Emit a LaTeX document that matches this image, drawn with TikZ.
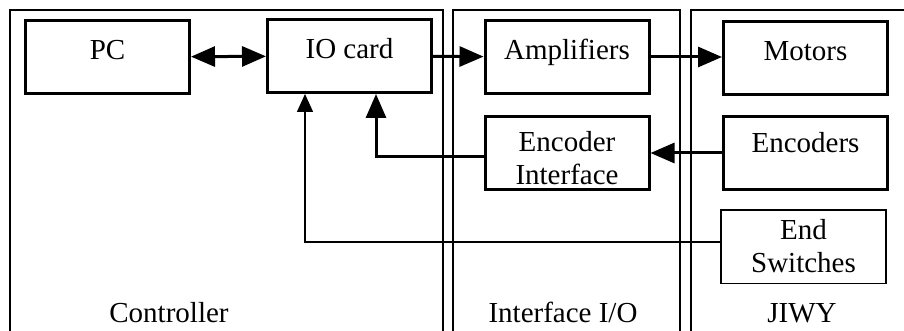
\documentclass[tikz,border=0pt]{standalone}
\usepackage{fontspec}
\setmainfont{Liberation Serif}
\usetikzlibrary{arrows.meta}
\tikzstyle{block}=[draw, line width=3pt, inner xsep=0, inner ysep=0, minimum width=164pt, text height=39.5pt, text depth=33.5pt]
\tikzstyle{thin block}=[draw, line width=1.5pt, inner xsep=0, inner ysep=0, minimum width=165pt, align=center]
\tikzstyle{frame}=[line width=1.5pt]
\tikzstyle{signal}=[line width=3pt, -{Triangle[length=24pt, width=20pt]}]
\tikzstyle{thin signal}=[line width=1.5pt, -{Triangle[length=18pt, width=16pt]}]

\begin{document}
\begin{tikzpicture}[x=1pt, y=-1pt, font=\fontsize{29}{33}\selectfont]
  \useasboundingbox (0,0) rectangle (904,331);

  % the three groups, open at the bottom
  \draw[frame] (10,340) -- (10,10) -- (443,10) -- (443,340);
  \draw[frame] (453,340) -- (453,10) -- (680,10) -- (680,340);
  \draw[frame] (691,340) -- (691,10) -- (910,10);

  \node[anchor=base] (ctrl_label) at (169,322) {Controller};
  \node[anchor=base] (iface_label) at (563,322) {Interface I/O};
  \node[anchor=base] (jiwy_label) at (802,322) {JIWY};

  % blocks (two-line ones sit on their last baseline)
  \node[block, anchor=base] (pc) at (107.5,60) {PC};
  \node[block, anchor=base] (io) at (349.5,59) {IO card};
  \node[block, anchor=base] (amp) at (567,60) {Amplifiers};
  \node[block, anchor=base] (motors) at (805.5,61) {Motors};
  \node[block, anchor=base, align=center, text height=68.5pt, text depth=4.5pt] (enc_if) at (567,185) {Encoder\\Interface};
  \node[block, anchor=base, text height=36.5pt, text depth=36.5pt] (enc) at (805.5,153) {Encoders};
  \node[thin block, anchor=base, text height=62.25pt, text depth=11.25pt] (end_sw) at (803.5,272) {End\\Switches};

  % signals
  \draw[signal, {Triangle[length=24pt, width=20pt]}-{Triangle[length=24pt, width=20pt]}] (pc) -- (io);
  \draw[signal] (io) -- (amp);
  \draw[signal] (amp.east) -- (amp.east -| motors.west);
  \draw[signal] (enc) -- (enc_if);
  \draw[signal] ([yshift=-4pt]enc_if.west) -| ([xshift=26.5pt]io.south);
  \draw[thin signal] ([yshift=4.5pt]end_sw.west) -| ([xshift=-44.5pt]io.south);
\end{tikzpicture}
\end{document}
